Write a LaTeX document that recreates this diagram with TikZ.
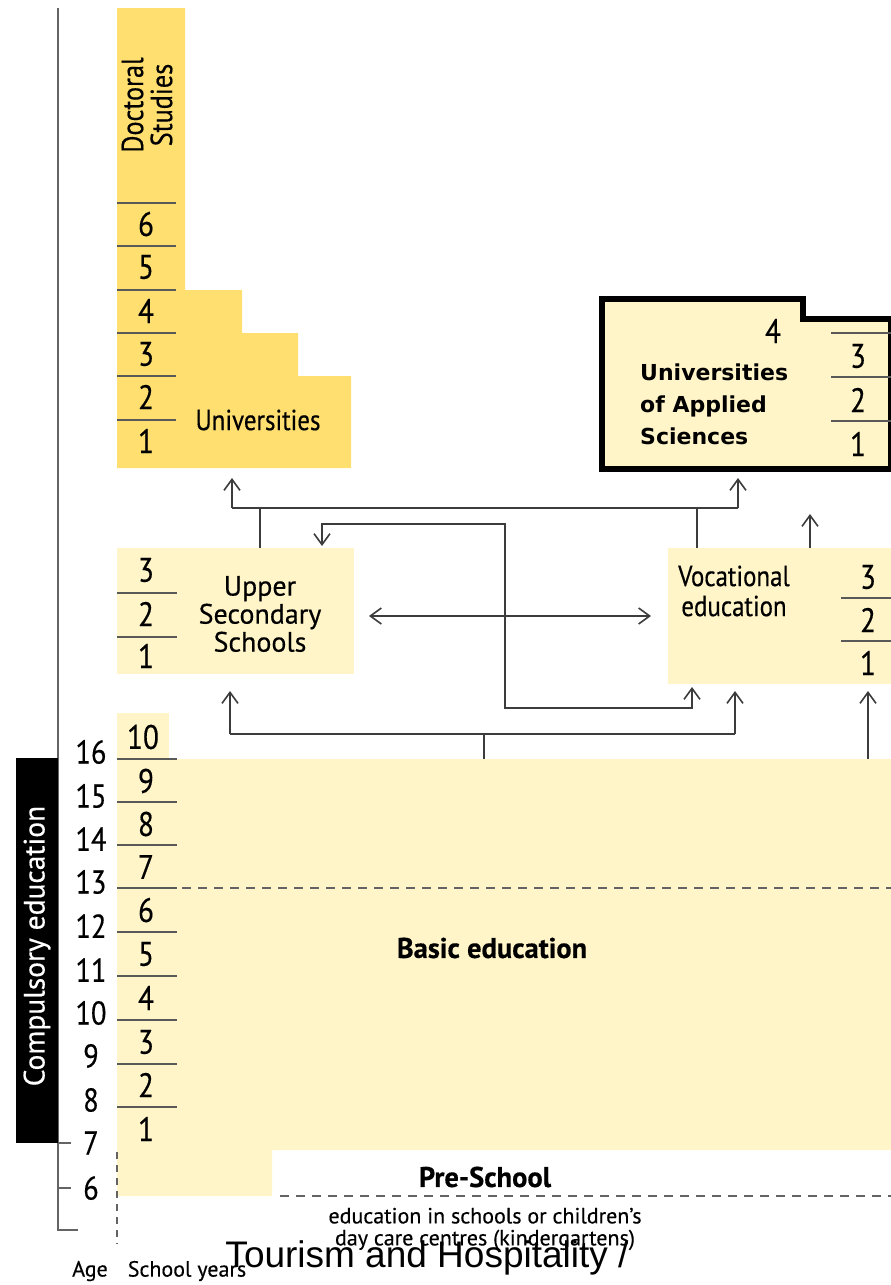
\documentclass[tikz,border=0pt]{standalone}
\usepackage{fontspec}
\setmainfont[FakeStretch=0.86,FakeBold=0.4]{PT Sans}
\newfontfamily\widefont[FakeBold=0.4]{PT Sans}
\newfontfamily\uasfont{DejaVu Sans}
\newfontfamily\arialfont{Liberation Sans}
\usetikzlibrary{arrows.meta}
\definecolor{gold}{RGB}{255,223,112}
\definecolor{cream}{RGB}{255,245,200}
\definecolor{linegray}{RGB}{60,60,60}
\definecolor{axisgray}{RGB}{100,100,100}
\begin{document}
\begin{tikzpicture}[x=1pt,y=-1pt,
  conn/.style={draw=linegray, line width=1.6pt},
  barb/.tip={Straight Barb[length=11pt,width=16pt,line width=1.6pt]},
  arr/.style={conn,-barb},
  darr/.style={conn,barb-barb},
  yr/.style={draw=linegray!85, line width=1.3pt},
  dashln/.style={draw=linegray!80, line width=1.3pt, dash pattern=on 9pt off 7pt},
  num/.style={font=\fontsize{34}{34}\selectfont, inner sep=0pt},
  age/.style={font=\fontsize{33}{33}\selectfont, inner sep=0pt},
  lab/.style={font=\fontsize{29}{28}\selectfont, align=center, inner sep=0pt},
  boldlab/.style={font=\fontsize{28.5}{28}\selectfont\widefont\bfseries, inner sep=0pt},
]
\useasboundingbox (0,0) rectangle (891,1285);

% ---------- regions ----------
\fill[gold] (117,8) -- (185,8) -- (185,290) -- (242,290) -- (242,333) -- (298,333)
  -- (298,376) -- (351,376) -- (351,468) -- (117,468) -- cycle;
\draw[fill=cream, line width=6pt, line join=miter] (602,299) -- (803,299) -- (803,319)
  -- (891,319) -- (891,469) -- (602,469) -- cycle;
\fill[cream] (117,548) rectangle (354,674);
\fill[cream] (668,548) rectangle (891,684);
\fill[cream] (117,713) rectangle (169,759);
\fill[cream] (117,759) -- (891,759) -- (891,1150) -- (272,1150) -- (272,1196)
  -- (117,1196) -- cycle;

% ---------- axis ----------
\draw[axisgray, line width=2pt] (58,8) -- (58,1230) -- (78,1230);
\draw[axisgray, line width=2pt] (58,1143) -- (71,1143);
\draw[axisgray, line width=2pt] (58,1188) -- (71,1188);
\fill[black] (16,758) rectangle (58,1143);
\node[rotate=90, text=white, inner sep=0pt, font=\fontsize{29.5}{30}\selectfont\widefont] (comp) at (37,946) {Compulsory education};

% ages
\foreach \a/\y in {16/752,15/796,14/839,13/882,12/926,11/970,10/1013,9/1056,8/1100,7/1143,6/1188}
  \node[age] (age\a) at (91,\y) {\a};

% ---------- Doctoral / Universities ----------
\foreach \y in {203,246,290,333,376,420} \draw[yr] (117,\y) -- (176,\y);
\foreach \n/\y in {6/224,5/267,4/311,3/354,2/397,1/441}
  \node[num] (uy\n) at (146,\y) {\n};
\node[font=\fontsize{30.5}{29}\selectfont, align=center, inner sep=0pt, rotate=90] (doc) at (147,105) {Doctoral\\Studies};
\node[lab] (uni) at (258,420) {Universities};

% ---------- Universities of Applied Sciences ----------
\foreach \y in {333,377,421} \draw[yr] (831,\y) -- (891,\y);
\node[num] (uas4) at (773,331) {4};
\foreach \n/\y in {3/356,2/400,1/444} \node[num] (uas\n) at (858,\y) {\n};
\node[font=\fontsize{22}{32}\selectfont\uasfont\bfseries, align=left, anchor=west, inner sep=0pt]
  (uas) at (640,404) {Universities\\of Applied\\Sciences};

% ---------- Upper secondary ----------
\foreach \y in {593,637} \draw[yr] (117,\y) -- (177,\y);
\foreach \n/\y in {3/570,2/614,1/656} \node[num] (us\n) at (146,\y) {\n};
\node[font=\fontsize{28}{28}\selectfont\widefont, align=center, inner sep=0pt] (uss) at (260,614) {Upper\\Secondary\\Schools};

% ---------- Vocational ----------
\foreach \y in {598,641} \draw[yr] (841,\y) -- (891,\y);
\foreach \n/\y in {3/577,2/620,1/663} \node[num] (vy\n) at (868,\y) {\n};
\node[lab, font=\fontsize{29}{30}\selectfont] (voc) at (734,591) {Vocational\\education};

% ---------- Basic education ----------
\node[num] (b10) at (143,737) {10};
\foreach \y in {759,802,845,888,932,976,1020,1064,1107} \draw[yr] (117,\y) -- (177,\y);
\foreach \n/\y in {9/781,8/824,7/867,6/910,5/954,4/998,3/1042,2/1085,1/1129}
  \node[num] (by\n) at (146,\y) {\n};
\draw[dashln] (182,888) -- (891,888);
\node[boldlab] (basic) at (492,948) {Basic education};

% ---------- Pre-school ----------
\node[boldlab] (pre) at (485,1177) {Pre-School};
\draw[dashln] (280,1196) -- (891,1196);
\draw[dashln, dash pattern=on 7pt off 6pt] (117,1152) -- (117,1244);
\node[font=\fontsize{22}{22}\selectfont\widefont, align=center, inner sep=0pt] (kg) at (485,1229)
  {education in schools or children’s\\day care centres (kindergartens)};

% ---------- bottom labels ----------
\node[font=\fontsize{22}{22}\selectfont\widefont, inner sep=0pt] (agelab) at (90,1271) {Age};
\node[font=\fontsize{22}{22}\selectfont\widefont, inner sep=0pt] (sylab) at (187,1271) {School years};
\node[font=\fontsize{37}{37}\selectfont\arialfont, anchor=base, inner sep=0pt] (tour) at (427,1267) {Tourism and Hospitality /};

% ---------- connectors ----------
\coordinate (ussTop) at (260,548);
\coordinate (vocTop) at (697,548);
\coordinate (jU) at (260,508);
\coordinate (jV) at (697,508);
\coordinate (hL) at (232,508);
\coordinate (hR) at (738,508);
\coordinate (uniIn) at (232,478);
\coordinate (uasIn) at (738,478);
\draw[conn] (ussTop) -- (jU);
\draw[conn] (vocTop) -- (jV);
\draw[conn] (hL) -- (hR);
\draw[arr] (hL) -- (uniIn);
\draw[arr] (hR) -- (uasIn);

\coordinate (vocUp0) at (810,548);
\coordinate (vocUp1) at (810,514);
\draw[arr] (vocUp0) -- (vocUp1);

\coordinate (ussIn) at (322,546);
\coordinate (vocIn) at (692,687);
\draw[darr] (ussIn) -- (322,524) -- (505,524) -- (505,708) -- (692,708) -- (vocIn);

\coordinate (ussR) at (369,616);
\coordinate (vocL) at (651,616);
\draw[darr] (ussR) -- (vocL);

\coordinate (basicTop) at (484,759);
\coordinate (jB) at (484,734);
\coordinate (bL) at (230,734);
\coordinate (bR) at (735,734);
\coordinate (ussBot) at (230,691);
\coordinate (vocBot) at (735,691);
\draw[conn] (basicTop) -- (jB);
\draw[conn] (bL) -- (bR);
\draw[arr] (bL) -- (ussBot);
\draw[arr] (bR) -- (vocBot);

\coordinate (basicR) at (868,759);
\coordinate (vocBotR) at (868,691);
\draw[arr] (basicR) -- (vocBotR);
\end{tikzpicture}
\end{document}
